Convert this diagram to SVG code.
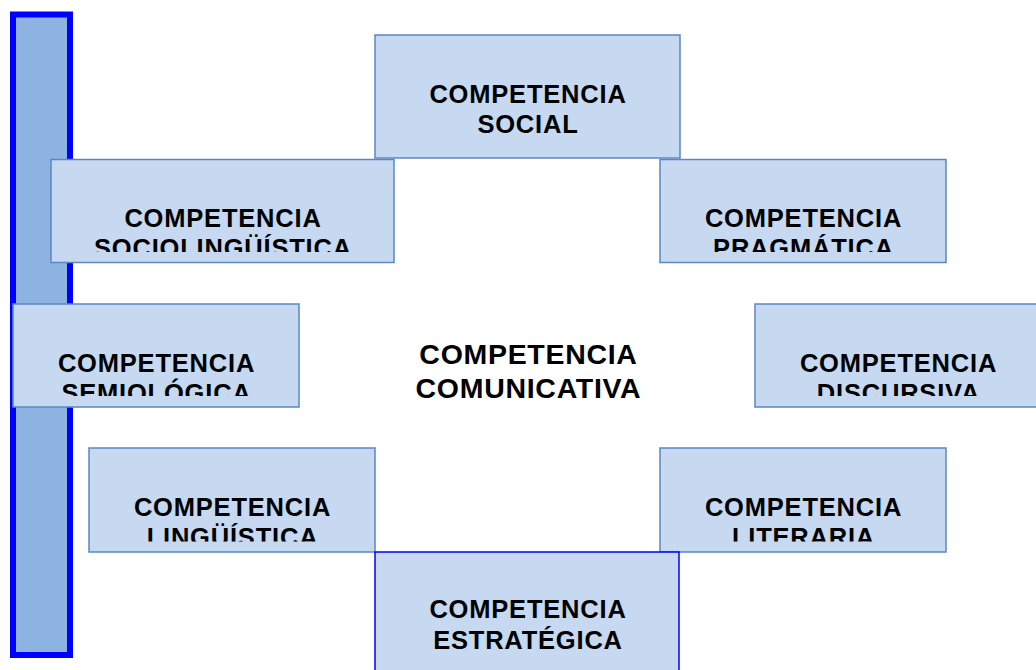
<svg xmlns="http://www.w3.org/2000/svg" width="1036" height="670" viewBox="0 0 1036 670">
<style>
.box{fill:#c6d9f1;stroke:#5b87c3;stroke-width:1.5}
.t{font-family:"Liberation Sans",Arial,sans-serif;font-weight:bold;font-size:25.5px;letter-spacing:0.8px;fill:#000;text-anchor:middle}
.c{font-size:28.5px;letter-spacing:0.7px}
</style>
<defs>
<clipPath id="cl-socioling"><rect x="51" y="160" width="343" height="92"/></clipPath>
<clipPath id="cl-prag"><rect x="660" y="160" width="286" height="92"/></clipPath>
<clipPath id="cl-semio"><rect x="13" y="304" width="286" height="92"/></clipPath>
<clipPath id="cl-disc"><rect x="755" y="304" width="286" height="92"/></clipPath>
<clipPath id="cl-ling"><rect x="89" y="448" width="286" height="93.5"/></clipPath>
<clipPath id="cl-lit"><rect x="660" y="448" width="286" height="93.5"/></clipPath>
</defs>
<rect id="bar" x="13" y="14.5" width="57" height="640.5" fill="#8db3e2" stroke="#0000ff" stroke-width="6"/>
<g id="connectors"></g>
<g id="social">
<rect class="box" x="375" y="35" width="305" height="123"/>
<text class="t" x="528" y="103">COMPETENCIA</text>
<text class="t" x="528" y="133">SOCIAL</text>
</g>
<g id="sociolinguistica">
<rect class="box" x="51" y="159.5" width="343" height="103"/>
<g clip-path="url(#cl-socioling)">
<text class="t" x="223" y="227">COMPETENCIA</text>
<text class="t" x="223" y="257">SOCIOLINGÜÍSTICA</text>
</g>
</g>
<g id="pragmatica">
<rect class="box" x="660" y="159.5" width="286" height="103"/>
<g clip-path="url(#cl-prag)">
<text class="t" x="803.5" y="227">COMPETENCIA</text>
<text class="t" x="803.5" y="257">PRAGMÁTICA</text>
</g>
</g>
<g id="semiologica">
<rect class="box" x="13" y="304" width="286" height="103"/>
<g clip-path="url(#cl-semio)">
<text class="t" x="156.5" y="371.5">COMPETENCIA</text>
<text class="t" x="156.5" y="401.5">SEMIOLÓGICA</text>
</g>
</g>
<g id="discursiva">
<rect class="box" x="755" y="304" width="286" height="103"/>
<g clip-path="url(#cl-disc)">
<text class="t" x="898.5" y="371.5">COMPETENCIA</text>
<text class="t" x="898.5" y="401.5">DISCURSIVA</text>
</g>
</g>
<g id="comunicativa">
<text class="t c" x="528.5" y="364">COMPETENCIA</text>
<text class="t c" x="528.5" y="398">COMUNICATIVA</text>
</g>
<g id="linguistica">
<rect class="box" x="89" y="448" width="286" height="104"/>
<g clip-path="url(#cl-ling)">
<text class="t" x="232.5" y="516">COMPETENCIA</text>
<text class="t" x="232.5" y="546">LINGÜÍSTICA</text>
</g>
</g>
<g id="literaria">
<rect class="box" x="660" y="448" width="286" height="104"/>
<g clip-path="url(#cl-lit)">
<text class="t" x="803.5" y="516">COMPETENCIA</text>
<text class="t" x="803.5" y="546">LITERARIA</text>
</g>
</g>
<g id="estrategica">
<rect x="375" y="552" width="304" height="130" fill="#c6d9f1" stroke="#0000ff" stroke-width="1.5"/>
<text class="t" x="528" y="618">COMPETENCIA</text>
<text class="t" x="528" y="649">ESTRATÉGICA</text>
</g>
</svg>
